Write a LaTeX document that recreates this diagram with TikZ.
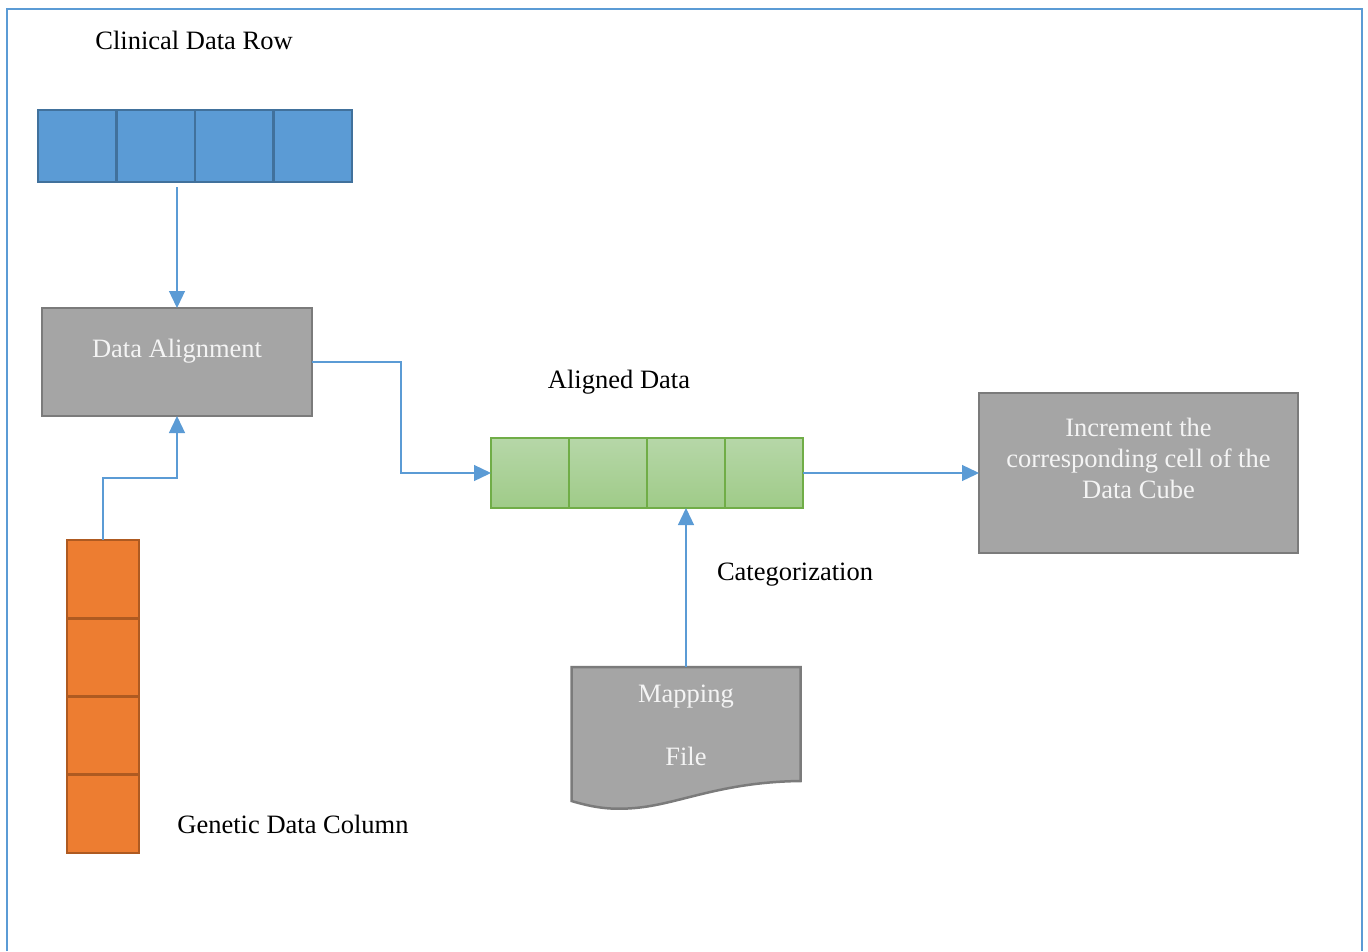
\documentclass[tikz,border=0pt]{standalone}
\usepackage{fontspec}
\setmainfont{Liberation Serif}
\usetikzlibrary{arrows.meta,calc}
\definecolor{frameblue}{HTML}{5B9BD5}
\definecolor{cellblue}{HTML}{5B9BD5}
\definecolor{cellblueb}{HTML}{41719C}
\definecolor{cellor}{HTML}{ED7D31}
\definecolor{cellorb}{HTML}{AE5A21}
\definecolor{greentop}{HTML}{B6D7A8}
\definecolor{greenbot}{HTML}{9FCB88}
\definecolor{greenb}{HTML}{70AD47}
\definecolor{boxgray}{HTML}{A5A5A5}
\definecolor{boxgrayb}{HTML}{7B7B7B}
\definecolor{txtw}{HTML}{F4F4F4}
\tikzset{
  every node/.style={font=\fontsize{26.5}{31}\selectfont},
  bcell/.style={draw=cellblueb,fill=cellblue,line width=2.5pt,minimum width=78.5pt,minimum height=72pt,inner sep=0pt,outer sep=0pt},
  ocell/.style={draw=cellorb,fill=cellor,line width=2.5pt,minimum width=72pt,minimum height=78.25pt,inner sep=0pt,outer sep=0pt},
  gcell/.style={draw=greenb,top color=greentop,bottom color=greenbot,line width=1.6pt,minimum width=78pt,minimum height=70pt,inner sep=0pt,outer sep=0pt},
  graybox/.style={draw=boxgrayb,fill=boxgray,line width=2.5pt,inner sep=0pt,outer sep=0pt},
  wtext/.style={text=txtw,align=center,inner sep=0pt},
  btext/.style={text=black,inner sep=0pt},
  conn/.style={draw=frameblue,line width=1.3pt,-{Triangle[length=17pt,width=16pt]}},
}
\begin{document}
\begin{tikzpicture}[x=1pt,y=-1pt]
\useasboundingbox (0,0) rectangle (1368,951);
\draw[frameblue,line width=2pt] (7,951) -- (7,9) -- (1362,9) -- (1362,951);

% clinical row
\node[btext] (tclin) at (194,40) {Clinical Data Row};
\node[bcell] (b1) at (77.25,146) {};
\node[bcell] (b2) at (155.75,146) {};
\node[bcell] (b3) at (234.25,146) {};
\node[bcell] (b4) at (312.75,146) {};
\coordinate (bout) at (177,187);

% data alignment
\node[graybox,minimum width=270pt,minimum height=108pt,
  label={[wtext,yshift=11pt]center:Data Alignment}] (align) at (177,362) {};

% genetic column
\node[ocell] (g1) at (103,579.1) {};
\node[ocell] (g2) at (103,657.4) {};
\node[ocell] (g3) at (103,735.6) {};
\node[ocell] (g4) at (103,813.9) {};
\node[btext] (tgen) at (293,824) {Genetic Data Column};

% aligned data
\node[btext] (tal) at (619,382) {Aligned Data};
\node[gcell] (c1) at (530,473) {};
\node[gcell] (c2) at (608,473) {};
\node[gcell] (c3) at (686,473) {};
\node[gcell] (c4) at (764,473) {};

% increment
\node[graybox,minimum width=319pt,minimum height=160pt,
  label={[wtext,yshift=15pt]center:{Increment the\\corresponding cell of the\\Data Cube}}] (inc) at (1138.5,473) {};

% categorization
\node[btext] (tcat) at (795,575) {Categorization};

% mapping file
\node[minimum width=229pt,minimum height=114pt,inner sep=0pt,outer sep=0pt] (map) at (686,724) {};
\draw[boxgrayb,fill=boxgray,line width=2.5pt,line join=miter] (map.north west) -- (map.north east) -- (map.south east)
  .. controls (720,782) and (680,804) .. (635,808)
  .. controls (612,810) and (595,808) .. (571.5,801) -- cycle;
\node[wtext] (tmap) at ($(map.center)+(0,-27)$) {Mapping};
\node[wtext] (tfile) at ($(map.center)+(0,32)$) {File};

% connectors
\draw[conn] (bout) -- (align.north);
\draw[conn] (g1.north) |- ($(align.south)+(0,62)$) -- (align.south);
\draw[conn] (align.east) -- ++(89,0) |- (c1.west);
\draw[conn] (c4.east) -- (inc.west);
\draw[conn] (map.north) -- (c3.south);
\end{tikzpicture}
\end{document}
